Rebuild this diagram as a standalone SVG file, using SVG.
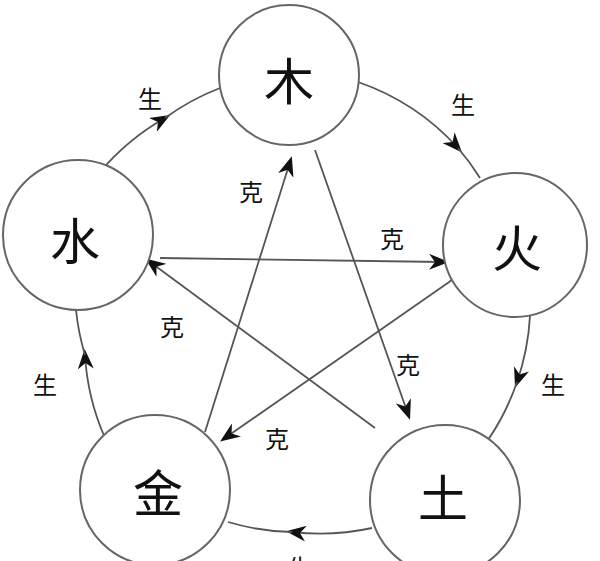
<svg xmlns="http://www.w3.org/2000/svg" width="600" height="561" viewBox="0 0 600 561">
<style>
.n{fill:#fff;stroke:#666;stroke-width:2}
.big{font-family:"Noto Sans CJK SC",sans-serif;font-size:50px;text-anchor:middle;dominant-baseline:central;fill:#111}
.l{font-family:"Noto Sans CJK SC",sans-serif;font-size:24px;text-anchor:middle;dominant-baseline:central;fill:#111}
.c{fill:none;stroke:#555;stroke-width:1.8}
</style>
<defs><marker id="a" viewBox="0 0 20 16" refX="14" refY="8" markerWidth="20" markerHeight="16" markerUnits="userSpaceOnUse" orient="auto"><path d="M0,0 L20,8 L0,16 L6,8 Z" fill="#111"/></marker></defs>
<rect width="600" height="561" fill="#fff"/>
<g id="connectors">
<path class="c" d="M100,172 A240,240 0 0,1 165,118" marker-end="url(#a)"/>
<path class="c" d="M165,118 A240,240 0 0,1 220,88"/>
<path class="c" d="M358,82 A240,240 0 0,1 458,148" marker-end="url(#a)"/>
<path class="c" d="M458,148 A240,240 0 0,1 480,178"/>
<path class="c" d="M530,316 A240,240 0 0,1 517,382" marker-end="url(#a)"/>
<path class="c" d="M517,382 A240,240 0 0,1 488,440"/>
<path class="c" d="M372,528 A240,240 0 0,1 292,532" marker-end="url(#a)"/>
<path class="c" d="M292,532 A240,240 0 0,1 228,522"/>
<path class="c" d="M105,438 A240,240 0 0,1 85,355" marker-end="url(#a)"/>
<path class="c" d="M85,355 A240,240 0 0,1 76,310"/>
<path class="c" d="M160,258 L443,262" marker-end="url(#a)"/>
<path class="c" d="M452,280 L225,438" marker-end="url(#a)"/>
<path class="c" d="M205,432 L290,162" marker-end="url(#a)"/>
<path class="c" d="M315,150 L408,414" marker-end="url(#a)"/>
<path class="c" d="M375,428 L150,262" marker-end="url(#a)"/>
</g>
<g id="mu"><circle class="n" cx="289" cy="75" r="70"/><text class="big" x="289" y="78">木</text></g>
<g id="huo"><circle class="n" cx="515" cy="245" r="72"/><text class="big" x="517" y="245">火</text></g>
<g id="shui"><circle class="n" cx="78" cy="235" r="75"/><text class="big" x="75" y="238">水</text></g>
<g id="jin"><circle class="n" cx="155" cy="490" r="75"/><text class="big" x="158" y="490">金</text></g>
<g id="tu"><circle class="n" cx="445" cy="500" r="75"/><text class="big" x="443" y="495">土</text></g>
<g id="labels">
<text class="l" x="150" y="97">生</text><text class="l" x="463" y="103">生</text>
<text class="l" x="553" y="383">生</text><text class="l" x="45" y="383">生</text>
<text class="l" x="300" y="566">生</text>
<text class="l" x="251" y="190">克</text><text class="l" x="392" y="237">克</text>
<text class="l" x="172" y="325">克</text><text class="l" x="408" y="363">克</text>
<text class="l" x="277" y="437">克</text>
</g>
</svg>
